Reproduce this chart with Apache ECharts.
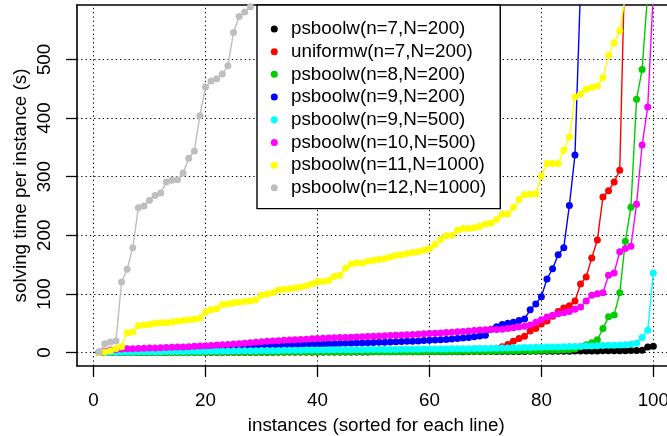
<!DOCTYPE html>
<html><head><meta charset="utf-8">
<script src="https://cdn.jsdelivr.net/npm/echarts@6/dist/echarts.min.js"></script>
<style>html,body{margin:0;padding:0;background:#fff}#c{width:667px;height:436px}</style>
</head><body><div id="c"></div>
<script>
var xTicks = [0, 20, 40, 60, 80, 100];
var yTicks = [0, 100, 200, 300, 400, 500];
var seriesNames = ['psboolw(n=7,N=200)','uniformw(n=7,N=200)','psboolw(n=8,N=200)','psboolw(n=9,N=200)','psboolw(n=9,N=500)','psboolw(n=10,N=500)','psboolw(n=11,N=1000)','psboolw(n=12,N=1000)'];
var seriesColors = ['#000000','#FF0000','#00CD00','#0000FF','#00FFFF','#FF00FF','#FFFF00','#BEBEBE'];

var black = [0.1,0.1,0.2,0.2,0.2,0.3,0.3,0.3,0.3,0.4,
0.4,0.4,0.4,0.5,0.5,0.5,0.5,0.5,0.6,0.6,
0.6,0.6,0.6,0.7,0.7,0.7,0.7,0.8,0.8,0.8,
0.8,0.8,0.9,0.9,0.9,0.9,1.0,1.0,1.0,1.0,
1.0,1.1,1.1,1.1,1.1,1.2,1.2,1.2,1.2,1.3,
1.3,1.3,1.3,1.4,1.4,1.4,1.4,1.5,1.5,1.5,
1.6,1.6,1.6,1.7,1.7,1.7,1.8,1.8,1.8,1.9,
1.9,1.9,2.0,2.0,2.0,2.1,2.1,2.2,2.2,2.3,
2.3,2.4,2.4,2.5,2.5,2.6,2.6,2.7,2.8,2.9,
3.0,3.1,3.2,3.3,3.4,3.6,3.8,4.2,9.5,11];

var red = [0.1,0.1,0.1,0.2,0.2,0.2,0.2,0.3,0.3,0.3,
0.3,0.3,0.4,0.4,0.4,0.4,0.5,0.5,0.5,0.5,
0.6,0.6,0.6,0.6,0.7,0.7,0.7,0.8,0.8,0.8,
0.9,0.9,0.9,1.0,1.0,1.0,1.1,1.1,1.2,1.2,
1.3,1.3,1.4,1.4,1.5,1.5,1.6,1.6,1.7,1.8,
1.8,1.9,2.0,2.1,2.2,2.3,2.4,2.5,2.6,2.7,
2.9,3.0,3.2,3.4,3.6,3.9,4.2,4.6,5.0,5.6,
6.4,7.5,10,14,19.5,24,28,37,41,49,
54,62,70,76,80,88,117,129,161.5,192,
265.5,276,291,311,700,780,860,940,1020,1100];

var green = [0.1,0.1,0.1,0.1,0.2,0.2,0.2,0.2,0.2,0.3,
0.3,0.3,0.3,0.3,0.4,0.4,0.4,0.4,0.4,0.5,
0.5,0.5,0.5,0.6,0.6,0.6,0.6,0.7,0.7,0.7,
0.7,0.8,0.8,0.8,0.9,0.9,0.9,1.0,1.0,1.0,
1.1,1.1,1.1,1.2,1.2,1.2,1.3,1.3,1.3,1.4,
1.4,1.5,1.5,1.5,1.6,1.6,1.7,1.7,1.8,1.8,
1.9,1.9,2.0,2.0,2.1,2.2,2.2,2.3,2.4,2.4,
2.5,2.6,2.7,2.8,2.9,3.0,3.1,3.2,3.3,3.5,
3.7,3.9,4.1,4.4,4.8,6,10,13.5,17,22,
41,61,64,102,190,248,432,483,615,720];

var blue = [0.5,1.0,1.6,2.2,2.8,3.3,3.8,4.2,4.6,5.0,
5.3,5.6,5.9,6.2,6.5,6.8,7.0,7.3,7.6,7.9,
8.2,8.5,8.8,9.1,9.4,9.8,10.2,10.6,11.0,11.4,
11.8,12.1,12.4,12.7,13.0,13.3,13.6,13.9,14.2,14.5,
14.8,15.0,15.3,15.5,15.8,16.0,16.3,16.6,16.9,17.2,
17.5,17.8,18.1,18.4,18.8,19.2,19.6,20.0,20.5,21.0,
21.5,22.0,22.6,23.2,24.0,25.0,26.0,27.0,28.2,29.5,
40,44,48,50,52,55,57.5,73,83,95.5,
125.5,143,167,179,251,337,625,680];

var cyan = [0.2,0.4,0.6,0.8,1.0,1.1,1.2,1.3,1.4,1.5,
1.6,1.7,1.8,1.9,2.0,2.1,2.2,2.3,2.4,2.5,
2.6,2.7,2.8,2.9,3.0,3.1,3.2,3.3,3.4,3.5,
3.6,3.7,3.8,3.9,4.0,4.1,4.2,4.3,4.4,4.5,
4.6,4.7,4.8,4.9,5.0,5.0,5.1,5.1,5.2,5.2,
5.3,5.3,5.4,5.5,5.6,5.7,5.8,5.9,6.0,6.1,
6.2,6.3,6.4,6.5,6.6,6.7,6.8,6.9,7.0,7.2,
7.4,7.6,7.8,8.0,8.2,8.4,8.6,8.8,9.0,9.2,
9.4,9.6,9.8,10.0,10.3,10.6,10.9,11.2,11.5,11.8,
12.1,12.4,12.7,13.0,13.5,14.5,16,26,38,136];

var magenta = [0.5,2.5,4.5,5.5,6.0,6.5,6.8,7.1,7.4,7.7,
8.0,8.3,8.6,9.0,9.4,9.8,10.2,10.7,11.2,11.7,
12.2,12.8,13.4,14.0,14.6,15.3,16.0,16.8,17.6,18.5,
19.2,19.8,20.4,21.0,21.5,22.0,22.5,23.0,23.5,24.0,
24.4,24.8,25.2,25.6,26.0,26.4,26.8,27.2,27.6,28.0,
28.4,28.8,29.2,29.6,30.0,30.5,31.0,31.5,32.0,32.5,
33.0,33.6,34.2,34.8,35.5,36.2,37.0,37.8,38.5,39.0,
39.3,39.6,39.9,41,42.6,43.7,45,47,52,56,
60.8,63.6,66.5,68,70,74,78,88,98,100.5,
102,132,136,172,177.5,181.5,253,354,419,615];

var yellow = [0,1,3,7,10,34,35,46,47,48,
50,51,51,52,54,55,56,57,59,69,
73,75,82,83,85,86,87,88,90,98,
100,102,107,108,109,110,112,114,117,121,
121.5,123,130,132,144,151,153,153,156,157.5,
159,160.5,163,165.5,167,169,170.6,172,174.6,177,
184.5,193,199.5,200,208.7,211.5,211.5,213,215.5,219.5,
220.5,227,236,237,247.5,261,269.6,270,271,301,
322.5,322.5,322.5,345,367.5,436,441,449,452,454.5,
468.6,507,528,549,607,660,720,790,870,960];

var gray = [1,15,18,20,120.5,142,179,247,250,260,
268,272,291,294,295,306.5,331.5,344,404,453,
463,467,475,489,546,573,581,590,640,700];

var allValues = [black, red, green, blue, cyan, magenta, yellow, gray];

var FONT = '"Liberation Sans", Arial, Helvetica, sans-serif';
var FS = 18.8;
var X_MIN = -2.96, X_MAX = 103.96, Y_MIN = -22.8, Y_MAX = 592.8;
var chart = echarts.init(document.getElementById('c'), null, {renderer: 'canvas'});

var series = [{
  type: 'line', name: '_grid', data: [], silent: true, z: 1,
  markLine: {
    z: 1, silent: true, animation: false, symbol: ['none','none'],
    label: {show: false}, emphasis: {disabled: true},
    lineStyle: {color: '#000', type: [1.3, 3], width: 1},
    data: xTicks.map(function(v){return {xAxis: v};}).concat(yTicks.map(function(v){return {yAxis: v};}))
  }
}];
allValues.forEach(function(vals, k){
  series.push({
    type: 'line', name: seriesNames[k], z: 2 + k * 0.01,
    data: vals.map(function(v, i){ return [i + 1, v]; }),
    symbol: 'circle', symbolSize: 7, showSymbol: true,
    itemStyle: {color: seriesColors[k]},
    lineStyle: {color: seriesColors[k], width: 1.4},
    clip: true, silent: true, animation: false,
    emphasis: {disabled: true}
  });
});

function boxLine() { return {show: true, onZero: false, lineStyle: {color: '#000', width: 1.6}}; }
chart.setOption({
  animation: false,
  backgroundColor: '#fff',
  textStyle: {fontFamily: FONT},
  grid: {left: 77, top: 5, width: 598.5, height: 361, show: false, outerBoundsMode: 'none', containLabel: false},
  legend: {
    data: seriesNames, orient: 'vertical', left: 257, top: 5,
    icon: 'circle', itemWidth: 23.4, itemHeight: 7, itemGap: 0,
    padding: [12.6, 14, 9.4, 13.8],
    backgroundColor: '#fff', borderColor: '#000', borderWidth: 1.4,
    selectedMode: false,
    textStyle: {fontSize: FS, color: '#000', fontFamily: FONT, lineHeight: 22.7}
  },
  xAxis: [{
    type: 'value', min: X_MIN, max: X_MAX, position: 'bottom',
    name: 'instances (sorted for each line)', nameLocation: 'middle', nameGap: 50, nameMoveOverlap: false,
    nameTextStyle: {fontSize: FS, color: '#000', fontFamily: FONT},
    axisLine: boxLine(),
    axisTick: {show: true, inside: false, length: 11, customValues: xTicks, lineStyle: {color: '#000', width: 1.3}},
    axisLabel: {show: true, customValues: xTicks, margin: 25, fontSize: FS, color: '#000', fontFamily: FONT},
    splitLine: {show: false}
  }, {
    type: 'value', min: X_MIN, max: X_MAX, position: 'top',
    axisLine: boxLine(), axisTick: {show: false}, axisLabel: {show: false}, splitLine: {show: false}
  }],
  yAxis: {
    type: 'value', min: Y_MIN, max: Y_MAX, position: 'left',
    name: 'solving time per instance (s)', nameLocation: 'middle', nameGap: 47, nameMoveOverlap: false,
    nameTextStyle: {fontSize: FS, color: '#000', fontFamily: FONT},
    axisLine: boxLine(),
    axisTick: {show: true, inside: false, length: 11, customValues: yTicks, lineStyle: {color: '#000', width: 1.3}},
    axisLabel: {show: true, customValues: yTicks, rotate: 90, margin: 23, fontSize: FS, color: '#000', fontFamily: FONT},
    splitLine: {show: false}
  },
  series: series
});
</script></body></html>
